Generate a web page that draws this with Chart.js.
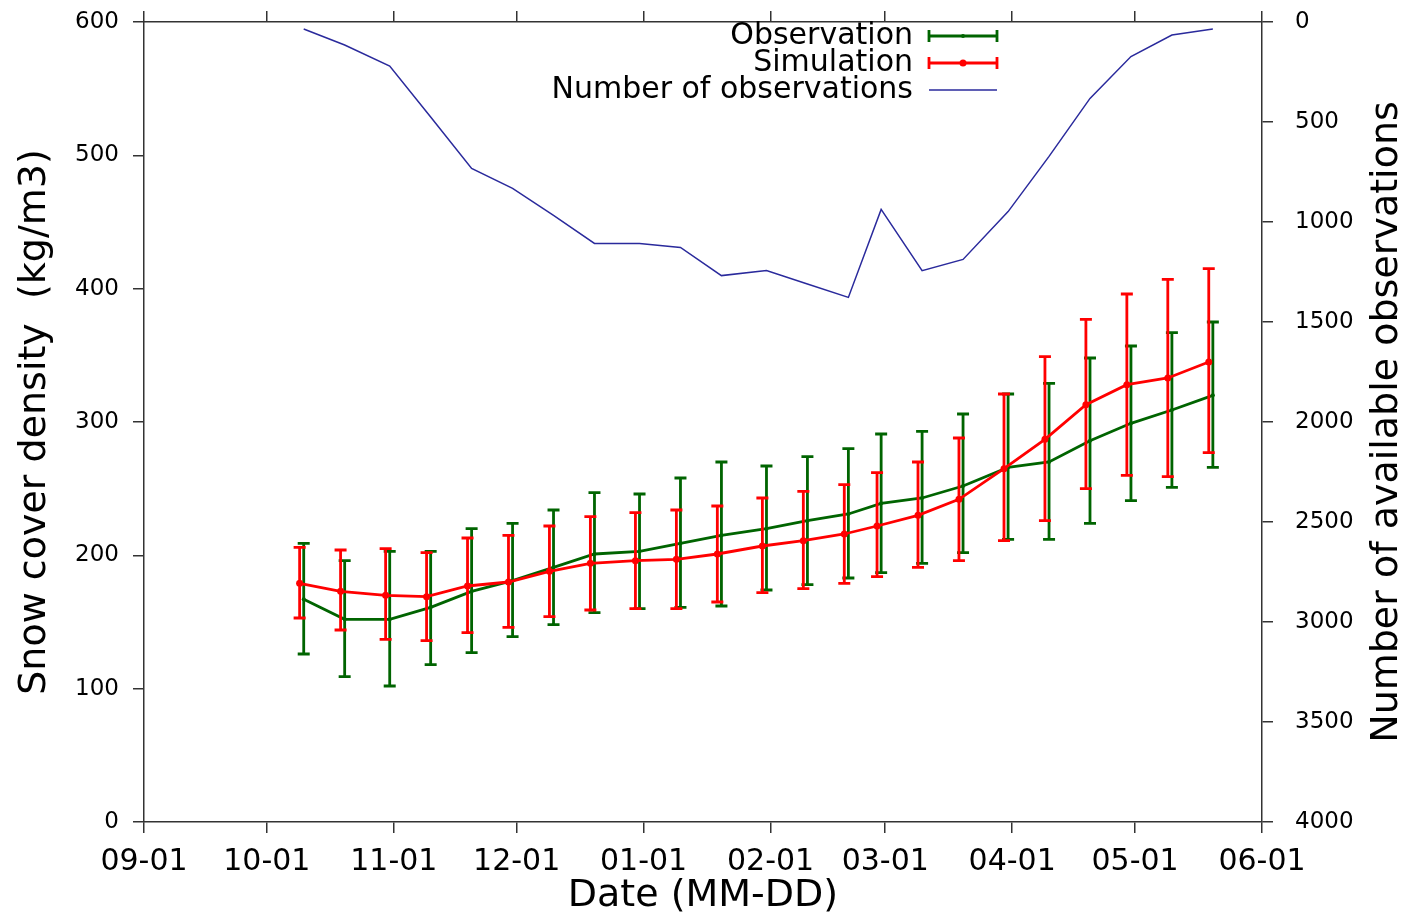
<!DOCTYPE html>
<html>
<head>
<meta charset="utf-8">
<script src="https://cdn.jsdelivr.net/npm/chart.js@4.4.1/dist/chart.umd.min.js"></script>
<style>
  body { margin: 0; background: #fff; }
  #wrap { width: 1407px; height: 919px; }
</style>
</head>
<body>
<div id="wrap"><canvas id="snowChart" width="1407" height="919"></canvas></div>
<script>
// dekad dates (MM-DD), season runs from 09-01 to 06-01
const obsDates = ["10-10","10-20","10-31","11-10","11-20","11-30","12-10","12-20","12-31","01-10","01-20","01-31",
                  "02-10","02-20","02-28","03-10","03-20","03-31","04-10","04-20","04-30","05-10","05-20"];
const simDates = ["10-09","10-19","10-30","11-09","11-19","11-29","12-09","12-19","12-30","01-09","01-19","01-30",
                  "02-09","02-19","02-27","03-09","03-19","03-30","04-09","04-19","04-29","05-09","05-19"];

const obsMean = [167,152,152,161,173,181,191,201,203,209,215,220,226,231,239,243,252,266,270,286,299,309,320];
const obsLow  = [126,109,102,118,127,139,148,157,160,161,162,174,178,183,187,194,202,212,212,224,241,251,266];
const obsHigh = [209,196,203,203,220,224,234,247,246,258,270,267,274,280,291,293,306,321,329,348,357,367,375];

const simMean = [179,173,170,169,177,180,188,194,196,197,201,207,211,216,222,230,242,265,287,313,328,333,345];
const simLow  = [153,144,137,136,142,146,154,159,160,160,165,172,175,179,184,191,196,211,226,250,260,259,277];
const simHigh = [206,204,205,202,213,215,222,229,232,234,237,243,248,253,262,270,288,321,349,377,396,407,415];

const nObs = [35,115,220,475,732,832,967,1107,1107,1127,1268,1243,1310,1377,937,1243,1187,948,672,382,173,65,35];

const xTickLabels = ["09-01","10-01","11-01","12-01","01-01","02-01","03-01","04-01","05-01","06-01"];

// days since 09-01
const monthOrder = [9,10,11,12,1,2,3,4,5,6];
const monthLen = {9:30,10:31,11:30,12:31,1:31,2:28,3:31,4:30,5:31,6:30};
function dayOf(md){
    const [m,d] = md.split("-").map(Number);
    let days = 0;
    for (const mm of monthOrder){
        if (mm === m) break;
        days += monthLen[mm];
    }
    return days + d - 1;
}
const xTickDays = xTickLabels.map(dayOf);
const seasonEnd = xTickDays[xTickDays.length-1];

const FONT = "'DejaVu Sans', Verdana, sans-serif";
const AXIS = "#333333";
const GREEN = "#006400";
const RED = "#ff0000";
const BLUE = "#2a2a9c";
const ERR_W = 2.8;

const pairs = (dates, vals) => dates.map((d,i) => ({x: dayOf(d), y: vals[i]}));

const errorBars = {
    id: "errorBars",
    afterDatasetDraw(chart, args){
        const ds = chart.data.datasets[args.index];
        if (!ds.errLow) return;
        const ctx = chart.ctx;
        const ys = chart.scales[ds.yAxisID];
        ctx.save();
        ctx.strokeStyle = ds.borderColor;
        ctx.lineWidth = ERR_W;
        args.meta.data.forEach((pt,i) => {
            const lo = ys.getPixelForValue(ds.errLow[i]);
            const hi = ys.getPixelForValue(ds.errHigh[i]);
            ctx.beginPath();
            ctx.moveTo(pt.x, lo); ctx.lineTo(pt.x, hi);
            ctx.moveTo(pt.x-6, lo); ctx.lineTo(pt.x+6, lo);
            ctx.moveTo(pt.x-6, hi); ctx.lineTo(pt.x+6, hi);
            ctx.stroke();
        });
        ctx.restore();
    }
};

// gnuplot-style key (text right-aligned, sample on the right) + right axis title
const keyAndTitle = {
    id: "keyAndTitle",
    afterDraw(chart){
        const ctx = chart.ctx;
        ctx.save();
        ctx.font = "30px " + FONT;
        ctx.fillStyle = "#000";
        ctx.textAlign = "right";
        ctx.textBaseline = "middle";
        const keyDs = [0,1,2].map(i => chart.data.datasets[i]);
        keyDs.forEach((ds,i) => {
            const y = 36 + i*27;
            ctx.fillText(ds.label, 913, y);
            ctx.strokeStyle = ds.borderColor;
            ctx.lineWidth = ds.errLow ? ERR_W : 1.5;
            ctx.beginPath();
            ctx.moveTo(929, y); ctx.lineTo(997, y);
            if (ds.errLow){
                ctx.moveTo(929, y-6); ctx.lineTo(929, y+6);
                ctx.moveTo(997, y-6); ctx.lineTo(997, y+6);
            }
            ctx.stroke();
            if (ds.errLow){
                ctx.fillStyle = ds.borderColor;
                ctx.beginPath();
                ctx.arc(963, y, ds.pointRadius, 0, Math.PI*2);
                ctx.fill();
                ctx.fillStyle = "#000";
            }
        });
        ctx.font = "38px " + FONT;
        ctx.textAlign = "center";
        ctx.translate(1387, (chart.chartArea.top + chart.chartArea.bottom)/2);
        ctx.rotate(-Math.PI/2);
        ctx.fillText("Number of available observations", 0, 0);
        ctx.restore();
    }
};

const tickGrid = {
    drawOnChartArea: false,
    drawTicks: true,
    tickLength: 11,
    color: AXIS,
    tickColor: AXIS,
    lineWidth: 1.5
};
const border = { display: true, color: AXIS, width: 1.5 };

const setMonthTicks = (scale) => {
    scale.ticks = xTickDays.map(v => ({value: v}));
};
const fixWidth = (w) => (s) => {
    s.width = w;
    s.paddingTop = 0;
    s.paddingBottom = 0;
};

new Chart(document.getElementById("snowChart"), {
    type: "line",
    data: {
        datasets: [
            {
                label: "Observation",
                data: pairs(obsDates, obsMean),
                errLow: obsLow,
                errHigh: obsHigh,
                xAxisID: "x",
                yAxisID: "y",
                borderColor: GREEN,
                backgroundColor: GREEN,
                borderWidth: ERR_W,
                pointRadius: 2,
                pointBorderWidth: 0,
                tension: 0,
                order: 3
            },
            {
                label: "Simulation",
                data: pairs(simDates, simMean),
                errLow: simLow,
                errHigh: simHigh,
                xAxisID: "x",
                yAxisID: "y",
                borderColor: RED,
                backgroundColor: RED,
                borderWidth: ERR_W,
                pointRadius: 3.5,
                pointBorderWidth: 0,
                tension: 0,
                order: 2
            },
            {
                label: "Number of observations",
                data: pairs(obsDates, nObs),
                xAxisID: "x",
                yAxisID: "y2",
                borderColor: BLUE,
                backgroundColor: BLUE,
                borderWidth: 1.5,
                pointRadius: 0,
                tension: 0,
                order: 1
            }
        ]
    },
    options: {
        responsive: false,
        animation: false,
        layout: { padding: 0 },
        plugins: {
            legend: { display: false },
            tooltip: { enabled: false }
        },
        scales: {
            x: {
                type: "linear",
                position: "bottom",
                min: 0,
                max: seasonEnd,
                afterBuildTicks: setMonthTicks,
                afterFit: s => { s.height = 97; },
                grid: tickGrid,
                border: border,
                ticks: {
                    autoSkip: false,
                    maxRotation: 0,
                    padding: 11,
                    color: "#000",
                    font: { family: FONT, size: 30 },
                    callback: (v, i) => xTickLabels[i]
                },
                title: {
                    display: true,
                    text: "Date (MM-DD)",
                    color: "#000",
                    font: { family: FONT, size: 38 },
                    padding: { top: 0, bottom: 0 }
                }
            },
            xTop: {
                type: "linear",
                position: "top",
                min: 0,
                max: seasonEnd,
                afterBuildTicks: setMonthTicks,
                afterFit: s => { s.height = 22; },
                grid: tickGrid,
                border: border,
                ticks: { display: false }
            },
            y: {
                type: "linear",
                position: "left",
                min: 0,
                max: 600,
                afterFit: fixWidth(144),
                grid: tickGrid,
                border: border,
                ticks: {
                    stepSize: 100,
                    padding: 14,
                    color: "#000",
                    font: { family: FONT, size: 23 }
                },
                title: {
                    display: true,
                    text: "Snow cover density  (kg/m3)",
                    color: "#000",
                    font: { family: FONT, size: 38 },
                    padding: { top: 12, bottom: 0 }
                }
            },
            y2: {
                type: "linear",
                position: "right",
                min: 0,
                max: 4000,
                reverse: true,
                afterFit: fixWidth(145),
                grid: tickGrid,
                border: border,
                ticks: {
                    stepSize: 500,
                    padding: 22,
                    color: "#000",
                    font: { family: FONT, size: 23 },
                    callback: v => String(v)
                }
            }
        }
    },
    plugins: [errorBars, keyAndTitle]
});
</script>
</body>
</html>
